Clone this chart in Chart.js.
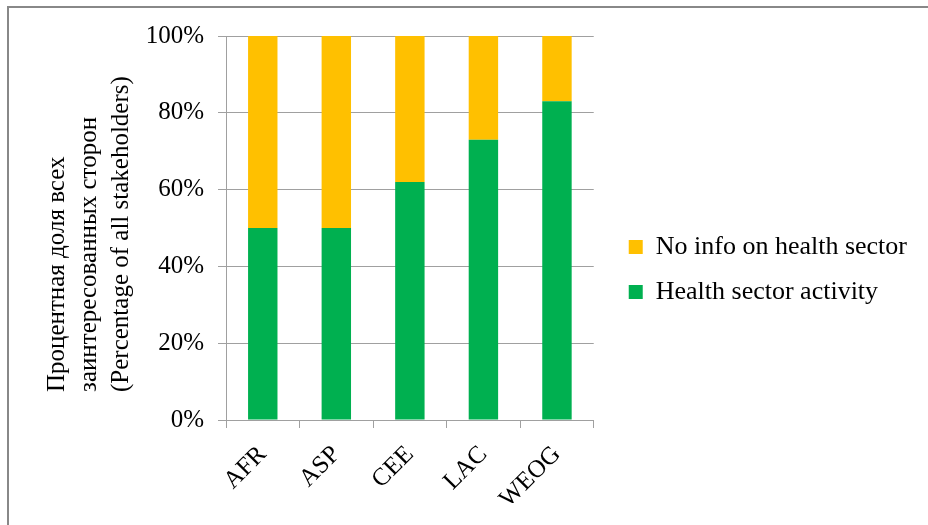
<!DOCTYPE html>
<html>
<head>
<meta charset="utf-8">
<script src="https://cdn.jsdelivr.net/npm/chart.js@4"></script>
<style>
body { margin: 0; background: #fff; }
#wrap { position: relative; width: 928px; height: 525px; overflow: hidden; }
#frame { position: absolute; left: 7px; top: 6px; width: 1000px; height: 600px; border-top: 2px solid #888; border-left: 2px solid #888; }
canvas { position: absolute; left: 0; top: 0; }
</style>
</head>
<body>
<div id="wrap">
  <div id="frame"></div>
  <canvas id="chart" width="928" height="525"></canvas>
</div>
<script>
const regions = ['AFR', 'ASP', 'CEE', 'LAC', 'WEOG'];
const healthActivity = [50, 50, 62, 73, 83];
const noInfo = [50, 50, 38, 27, 17];
const yTicks = [0, 20, 40, 60, 80, 100];
const yTitleLines = ['Процентная доля всех', 'заинтересованных сторон', '(Percentage of all stakeholders)'];

const serif = '"Liberation Serif", "Times New Roman", serif';
const gridGray = '#a0a0a0';

// rotated y title, lines start at the same bottom point like in Excel
const yTitle = {
  id: 'yTitle',
  afterDraw(chart) {
    const ctx = chart.ctx;
    const area = chart.chartArea;
    ctx.save();
    ctx.font = '25px ' + serif;
    ctx.fillStyle = '#000';
    ctx.textAlign = 'left';
    ctx.textBaseline = 'alphabetic';
    ctx.translate(0, area.bottom - 28);
    ctx.rotate(-Math.PI / 2);
    yTitleLines.forEach((t, i) => ctx.fillText(t, 0, area.left - 162 + i * 32));
    ctx.restore();
  }
};

// push the legend a bit away from the plot
const legendGap = {
  id: 'legendGap',
  afterLayout(chart) {
    chart.legend.left += 16;
    chart.legend.right += 16;
  }
};

new Chart(document.getElementById('chart'), {
  type: 'bar',
  data: {
    labels: regions,
    datasets: [{
      label: 'Health sector activity',
      data: healthActivity,
      backgroundColor: '#00B050',
      borderWidth: 0,
      barPercentage: 0.4,
      categoryPercentage: 1
    }, {
      label: 'No info on health sector',
      data: noInfo,
      backgroundColor: '#FFC000',
      borderWidth: 0,
      barPercentage: 0.4,
      categoryPercentage: 1
    }]
  },
  options: {
    responsive: false,
    animation: false,
    layout: { padding: { left: 128, top: 36, right: 27, bottom: 22 } },
    plugins: {
      legend: {
        position: 'right',
        reverse: true,
        maxWidth: 400,
        labels: {
          font: { family: serif, size: 26 },
          color: '#000',
          boxWidth: 14,
          boxHeight: 14,
          padding: 19
        }
      },
      tooltip: { enabled: false }
    },
    scales: {
      x: {
        stacked: true,
        grid: { drawOnChartArea: false, tickLength: 8, color: gridGray },
        border: { color: gridGray },
        ticks: { font: { family: serif, size: 25 }, color: '#000', maxRotation: 45, minRotation: 45, padding: 12 },
        afterFit: s => { s.height = 83; }
      },
      y: {
        stacked: true,
        min: 0,
        max: 100,
        afterBuildTicks: s => { s.ticks = yTicks.map(v => ({ value: v })); },
        grid: { tickLength: 8, color: gridGray },
        border: { color: gridGray },
        ticks: { font: { family: serif, size: 25 }, color: '#000', padding: 14, callback: v => v + '%' },
        afterFit: s => { s.width = 98; }
      }
    }
  },
  plugins: [yTitle, legendGap]
});
</script>
</body>
</html>
